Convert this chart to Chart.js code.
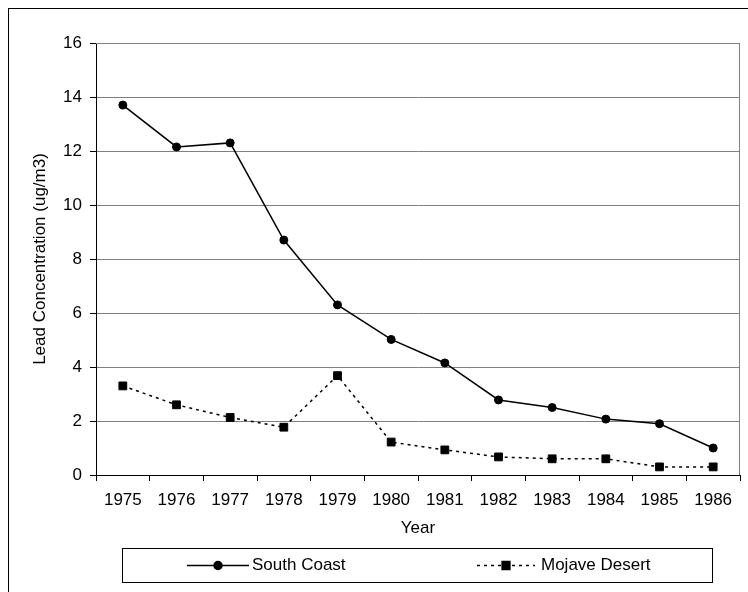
<!DOCTYPE html>
<html>
<head>
<meta charset="utf-8">
<script src="https://cdn.jsdelivr.net/npm/chart.js@4.4.0/dist/chart.umd.min.js"></script>
<style>
  html, body { margin: 0; padding: 0; background: #fff; }
  #wrap { width: 748px; height: 592px; position: relative; }
</style>
</head>
<body>
<div id="wrap"><canvas id="leadChart" width="748" height="592"></canvas></div>
<script>
// Lead concentration by year, two air basins

const years = ['1975', '1976', '1977', '1978', '1979', '1980', '1981', '1982', '1983', '1984', '1985', '1986'];
const southCoast = [13.7, 12.15, 12.3, 8.7, 6.3, 5.02, 4.15, 2.78, 2.5, 2.07, 1.9, 1.0];
const mojaveDesert = [3.3, 2.6, 2.13, 1.77, 3.68, 1.22, 0.93, 0.67, 0.6, 0.6, 0.3, 0.3];
const yMin = 0, yMax = 16, yStep = 2;

const font = { family: '"Liberation Sans", Arial, sans-serif', size: 17 };

// outer frame, plot border and the boxed legend under the axis
const framePlugin = {
    id: 'frame',
    beforeDraw(chart) {
        const ctx = chart.ctx;
        ctx.save();
        ctx.fillStyle = '#fff';
        ctx.fillRect(0, 0, chart.width, chart.height);
        ctx.strokeStyle = '#000';
        ctx.lineWidth = 1;
        ctx.strokeRect(8.5, 8.5, 800, 700);
        ctx.restore();
    },
    afterDatasetsDraw(chart) {
        const ctx = chart.ctx, a = chart.chartArea;
        ctx.save();
        ctx.strokeStyle = '#808080';
        ctx.lineWidth = 1;
        ctx.beginPath();
        ctx.moveTo(a.left, Math.round(a.top) + 0.5);
        ctx.lineTo(Math.round(a.right) - 0.5, Math.round(a.top) + 0.5);
        ctx.lineTo(Math.round(a.right) - 0.5, a.bottom);
        ctx.stroke();
        ctx.restore();
    },
    afterDraw(chart) {
        const ctx = chart.ctx;
        ctx.save();
        ctx.strokeStyle = '#000';
        ctx.lineWidth = 1;
        ctx.strokeRect(122.5, 548.5, 590, 34);
        const y = 565.5;
        const items = [{ x0: 187, x1: 249, tx: 252 }, { x0: 477, x1: 535, tx: 541 }];
        chart.data.datasets.forEach((ds, i) => {
            const it = items[i];
            ctx.strokeStyle = '#000';
            ctx.lineWidth = ds.borderWidth;
            ctx.setLineDash(ds.borderDash || []);
            ctx.beginPath();
            ctx.moveTo(it.x0, y);
            ctx.lineTo(it.x1, y);
            ctx.stroke();
            ctx.setLineDash([]);
            ctx.fillStyle = '#000';
            Chart.helpers.drawPoint(ctx, {
                pointStyle: ds.pointStyle, radius: ds.pointRadius, rotation: 0, borderWidth: 1
            }, (it.x0 + it.x1) / 2, y);
            ctx.fill();
            ctx.font = font.size + 'px ' + font.family;
            ctx.textBaseline = 'middle';
            ctx.textAlign = 'left';
            ctx.fillText(ds.label, it.tx, y);
        });
        ctx.restore();
    }
};

const chart = new Chart(document.getElementById('leadChart'), {
    type: 'line',
    data: {
        labels: years,
        datasets: [
            {
                label: 'South Coast', data: southCoast,
                borderColor: '#000', backgroundColor: '#000', borderWidth: 1.5,
                pointStyle: 'circle', pointRadius: 4, pointBorderWidth: 1,
                tension: 0, fill: false
            },
            {
                label: 'Mojave Desert', data: mojaveDesert,
                borderColor: '#000', backgroundColor: '#000', borderWidth: 1.5, borderDash: [3, 4],
                pointStyle: 'rect', pointRadius: 5.5, pointBorderWidth: 1,
                tension: 0, fill: false
            }
        ]
    },
    options: {
        responsive: false,
        animation: false,
        layout: { padding: { left: 0, top: 43, right: 8, bottom: 47 } },
        plugins: { legend: { display: false }, tooltip: { enabled: false } },
        scales: {
            x: {
                offset: true,
                grid: { offset: true, drawOnChartArea: false, tickLength: 6, color: '#000' },
                border: { color: '#000' },
                ticks: { color: '#000', font: font, padding: 9, maxRotation: 0, autoSkip: false },
                title: { display: true, text: 'Year', color: '#000', font: font, padding: { top: 0, bottom: 6 } },
                afterFit(s) { s.height = 70; }
            },
            y: {
                min: yMin, max: yMax,
                ticks: { stepSize: yStep, color: '#000', font: font, padding: 8 },
                grid: { color: '#808080', tickLength: 6, tickColor: '#000' },
                border: { color: '#000' },
                title: { display: true, text: 'Lead Concentration (ug/m3)', color: '#000', font: font, padding: { top: 30, bottom: 0 } },
                afterFit(s) { s.width = 96; }
            }
        }
    },
    plugins: [framePlugin]
});
</script>
</body>
</html>
